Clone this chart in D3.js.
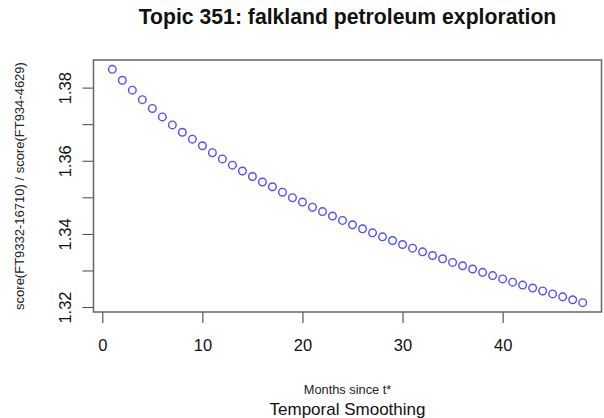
<!DOCTYPE html>
<html>
<head>
<meta charset="utf-8">
<script src="https://cdn.jsdelivr.net/npm/d3@7"></script>
<style>
  body { margin: 0; background: #fff; }
  text { font-family: "Liberation Sans", Arial, sans-serif; }
</style>
</head>
<body>
<script>

// months since t* and the smoothed score ratio
var months = [1,2,3,4,5,6,7,8,9,10,11,12,13,14,15,16,17,18,19,20,21,22,23,24,
              25,26,27,28,29,30,31,32,33,34,35,36,37,38,39,40,41,42,43,44,45,46,47,48];
var ratio = [1.3850,1.3820,1.3793,1.3767,1.3743,1.3720,1.3698,1.3678,1.3659,1.3641,
             1.3622,1.3605,1.3588,1.3572,1.3557,1.3542,1.3529,1.3514,1.3499,1.3487,
             1.3473,1.3461,1.3449,1.3437,1.3425,1.3414,1.3403,1.3392,1.3382,1.3371,
             1.3361,1.3351,1.3341,1.3332,1.3322,1.3313,1.3304,1.3295,1.3286,1.3277,
             1.3268,1.3260,1.3252,1.3244,1.3236,1.3228,1.3220,1.3212];
var xTicks = [0,10,20,30,40];
var yTicks = [1.32,1.33,1.34,1.35,1.36,1.37,1.38];
var yLabelled = [1.32,1.34,1.36,1.38];

var title = "Topic 351: falkland petroleum exploration";
var xLabel = "Months since t*";
var subLabel = "Temporal Smoothing";
var yLabel = "score(FT9332-16710) / score(FT934-4629)";

var width = 604, height = 418;
var box = {left: 93.5, right: 601.5, top: 60, bottom: 312};

// R style 4% padding around the data range
var xPad = (d3.max(months) - d3.min(months)) * 0.04;
var yPad = (d3.max(ratio) - d3.min(ratio)) * 0.04;

var xScale = d3.scaleLinear()
    .domain([d3.min(months) - xPad, d3.max(months) + xPad])
    .range([box.left, box.right]);
var yScale = d3.scaleLinear()
    .domain([d3.min(ratio) - yPad, d3.max(ratio) + yPad])
    .range([box.bottom, box.top]);

var svg = d3.select("body").append("svg")
    .attr("width", width)
    .attr("height", height);

// x axis
var xAxis = d3.axisBottom(xScale).tickValues(xTicks).tickSize(11).tickSizeOuter(0).tickPadding(0);
var gx = svg.append("g")
    .attr("transform", "translate(0," + box.bottom + ")")
    .call(xAxis);
gx.select(".domain").remove();
gx.selectAll(".tick line").attr("stroke", "#333");
gx.selectAll(".tick text")
    .attr("y", 39)
    .attr("dy", null)
    .attr("font-size", "16.5px")
    .attr("fill", "#111");

// y axis
var yAxis = d3.axisLeft(yScale).tickValues(yTicks).tickSize(11).tickSizeOuter(0)
    .tickFormat(function(d){
        return yLabelled.some(function(v){ return Math.abs(v - d) < 1e-9; }) ? d3.format(".2f")(d) : "";
    });
var gy = svg.append("g")
    .attr("transform", "translate(" + box.left + ",0)")
    .call(yAxis);
gy.select(".domain").remove();
gy.selectAll(".tick line").attr("stroke", "#444");
gy.selectAll(".tick text")
    .attr("x", null)
    .attr("dy", null)
    .attr("transform", "translate(-22.5,0) rotate(-90)")
    .attr("text-anchor", "middle")
    .attr("font-size", "16.5px")
    .attr("fill", "#111");

// plot box
svg.append("rect")
    .attr("x", box.left)
    .attr("y", box.top)
    .attr("width", box.right - box.left)
    .attr("height", box.bottom - box.top)
    .attr("fill", "none")
    .attr("stroke", "#666")
    .attr("stroke-width", 1.5);

// points
svg.selectAll("circle.pt")
    .data(months)
    .enter()
    .append("circle")
    .attr("class", "pt")
    .attr("cx", function(d){ return xScale(d); })
    .attr("cy", function(d, i){ return yScale(ratio[i]); })
    .attr("r", 3.8)
    .attr("fill", "none")
    .attr("stroke", "#4f4fff")
    .attr("stroke-width", 1.4);

// titles
var cx = (box.left + box.right) / 2;
svg.append("text")
    .attr("x", cx)
    .attr("y", 24)
    .attr("text-anchor", "middle")
    .attr("font-size", "21.2px")
    .attr("font-weight", "bold")
    .attr("fill", "#111")
    .text(title);

svg.append("text")
    .attr("x", cx)
    .attr("y", 394)
    .attr("text-anchor", "middle")
    .attr("font-size", "12.8px")
    .attr("fill", "#222")
    .text(xLabel);

svg.append("text")
    .attr("x", cx)
    .attr("y", 414.5)
    .attr("text-anchor", "middle")
    .attr("font-size", "17px")
    .attr("fill", "#111")
    .text(subLabel);

svg.append("text")
    .attr("transform", "translate(24," + ((box.top + box.bottom) / 2) + ") rotate(-90)")
    .attr("text-anchor", "middle")
    .attr("font-size", "13px")
    .attr("fill", "#222")
    .text(yLabel);

</script>
</body>
</html>
